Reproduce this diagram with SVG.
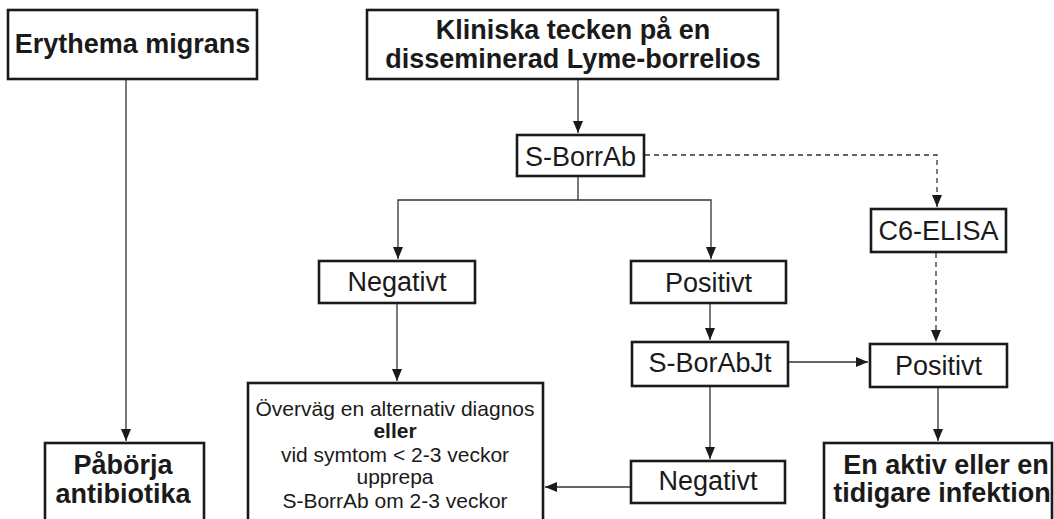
<svg xmlns="http://www.w3.org/2000/svg" width="1054" height="519" viewBox="0 0 1054 519">
<style>
.box{fill:#fff;stroke:#1a1a1a;stroke-width:2.6}
.t{font-family:"Liberation Sans",Arial,sans-serif;fill:#1a1a1a;text-anchor:middle}
.b{font-weight:bold;font-size:27px}
.n{font-size:27px}
.s{font-size:21px}
.c{fill:none;stroke:#333;stroke-width:1.3}
.d{stroke-dasharray:5,4}
</style>
<defs>
<marker id="ahl" viewBox="0 0 12 10" refX="12" refY="5" markerWidth="12" markerHeight="10" markerUnits="userSpaceOnUse" orient="auto"><path d="M0,0 L12,5 L0,10 z" fill="#1a1a1a"/></marker>
</defs>
<rect width="1054" height="519" fill="#fff"/>
<g id="connectors">
<path class="c" d="M126,80 V441" marker-end="url(#ahl)"/>
<path class="c" d="M578,80 V133" marker-end="url(#ahl)"/>
<path class="c d" d="M645,155 H937 V207" marker-end="url(#ahl)"/>
<path class="c" d="M578,177 V200 H398 V259" marker-end="url(#ahl)"/>
<path class="c" d="M578,200 H711 V259" marker-end="url(#ahl)"/>
<path class="c" d="M397,304 V381" marker-end="url(#ahl)"/>
<path class="c" d="M710,304 V340" marker-end="url(#ahl)"/>
<path class="c d" d="M936,253 V342" marker-end="url(#ahl)"/>
<path class="c" d="M789,362 H868" marker-end="url(#ahl)"/>
<path class="c" d="M710,387 V459" marker-end="url(#ahl)"/>
<path class="c" d="M938,388 V441" marker-end="url(#ahl)"/>
<path class="c" d="M630,487 H545" marker-end="url(#ahl)"/>
</g>
<g id="erythema"><rect class="box" x="8" y="10" width="249" height="69"/><text class="t b" x="132.5" y="53">Erythema migrans</text></g>
<g id="kliniska"><rect class="box" x="367" y="10" width="411" height="69"/><text class="t b" x="573" y="39">Kliniska tecken på en</text><text class="t b" x="573" y="68">disseminerad Lyme-borrelios</text></g>
<g id="sborrab"><rect class="box" x="517" y="135" width="127" height="41"/><text class="t n" x="580.5" y="166" font-size="28">S-BorrAb</text></g>
<g id="c6elisa"><rect class="box" x="871" y="209" width="135" height="43"/><text class="t n" x="938.5" y="240">C6-ELISA</text></g>
<g id="negativt1"><rect class="box" x="319" y="261" width="156" height="42"/><text class="t n" x="397" y="291">Negativt</text></g>
<g id="positivt1"><rect class="box" x="631" y="261" width="155" height="42"/><text class="t n" x="708.5" y="292">Positivt</text></g>
<g id="sborabjt"><rect class="box" x="632" y="342" width="156" height="44"/><text class="t n" x="710" y="372">S-BorAbJt</text></g>
<g id="positivt2"><rect class="box" x="870" y="344" width="137" height="43"/><text class="t n" x="938.5" y="375">Positivt</text></g>
<g id="overvag"><rect class="box" x="248" y="383" width="295" height="140"/>
<text class="t s" x="395" y="416">Överväg en alternativ diagnos</text>
<text class="t s" x="395" y="438" font-weight="bold">eller</text>
<text class="t s" x="395" y="462">vid symtom &lt; 2-3 veckor</text>
<text class="t s" x="395" y="484">upprepa</text>
<text class="t s" x="395" y="508">S-BorrAb om 2-3 veckor</text></g>
<g id="negativt2"><rect class="box" x="631" y="461" width="154" height="42"/><text class="t n" x="708" y="490">Negativt</text></g>
<g id="aktiv"><rect class="box" x="824" y="443" width="228" height="82"/><text class="t b" x="946" y="474" font-size="26">En aktiv eller en</text><text class="t b" x="942" y="502" font-size="26">tidigare infektion</text></g>
<g id="paborja"><rect class="box" x="45" y="443" width="159" height="82"/><text class="t b" x="123" y="474">Påbörja</text><text class="t b" x="123" y="503">antibiotika</text></g>
</svg>
